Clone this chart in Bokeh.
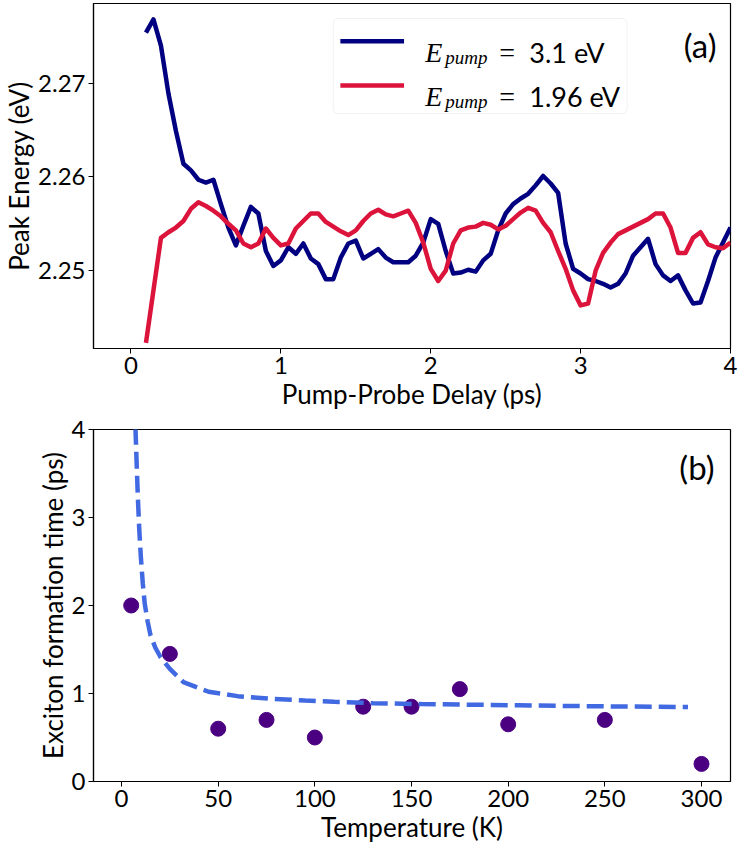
from bokeh.plotting import figure
from bokeh.layouts import column
from bokeh.models import Range1d, FixedTicker, BoxAnnotation, Label
from bokeh.embed import file_html
from bokeh.resources import INLINE

# ---------------- data: panel (a) ----------------
delay_ps = [0.1, 0.15, 0.2, 0.25, 0.3, 0.35, 0.4, 0.45, 0.5, 0.55,
            0.6, 0.65, 0.7, 0.75, 0.8, 0.85, 0.9, 0.95, 1.0, 1.05,
            1.1, 1.15, 1.2, 1.25, 1.3, 1.35, 1.4, 1.45, 1.5, 1.55,
            1.6, 1.65, 1.7, 1.75, 1.8, 1.85, 1.9, 1.95, 2.0, 2.05,
            2.1, 2.15, 2.2, 2.25, 2.3, 2.35, 2.4, 2.45, 2.5, 2.55,
            2.6, 2.65, 2.7, 2.75, 2.8, 2.85, 2.9, 2.95, 3.0, 3.05,
            3.1, 3.15, 3.2, 3.25, 3.3, 3.35, 3.4, 3.45, 3.5, 3.55,
            3.6, 3.65, 3.7, 3.75, 3.8, 3.85, 3.9, 3.95, 4.0]

peak_3p1 = [2.2754, 2.2768, 2.2740, 2.2689, 2.2649, 2.2614, 2.2607, 2.2597, 2.2594, 2.2597,
            2.2571, 2.2546, 2.2527, 2.2548, 2.2568, 2.2561, 2.2521, 2.2505, 2.2511, 2.2525,
            2.2518, 2.2529, 2.2513, 2.2507, 2.2491, 2.2491, 2.2514, 2.2529, 2.2532, 2.2513,
            2.2518, 2.2523, 2.2514, 2.2509, 2.2509, 2.2509, 2.2516, 2.2530, 2.2555, 2.2550,
            2.2521, 2.2497, 2.2498, 2.2501, 2.2499, 2.2511, 2.2518, 2.2543, 2.2561, 2.2571,
            2.2577, 2.2582, 2.2591, 2.2601, 2.2593, 2.2583, 2.2529, 2.2502, 2.2497, 2.2491,
            2.2489, 2.2486, 2.2482, 2.2486, 2.2497, 2.2516, 2.2525, 2.2534, 2.2507, 2.2495,
            2.2489, 2.2495, 2.2479, 2.2465, 2.2466, 2.2489, 2.2514, 2.2530, 2.2546]

peak_1p96 = [2.2423, 2.2479, 2.2535, 2.2541, 2.2546, 2.2553, 2.2566, 2.2573, 2.2569, 2.2564,
             2.2558, 2.2550, 2.2543, 2.2529, 2.2525, 2.2529, 2.2545, 2.2535, 2.2527, 2.2529,
             2.2545, 2.2553, 2.2561, 2.2561, 2.2552, 2.2547, 2.2542, 2.2538, 2.2543, 2.2553,
             2.2561, 2.2565, 2.2560, 2.2558, 2.2561, 2.2564, 2.2551, 2.2530, 2.2502, 2.2489,
             2.2500, 2.2529, 2.2543, 2.2546, 2.2547, 2.2551, 2.2549, 2.2544, 2.2548, 2.2555,
             2.2562, 2.2567, 2.2564, 2.2551, 2.2541, 2.2521, 2.2502, 2.2479, 2.2463, 2.2465,
             2.2500, 2.2519, 2.2530, 2.2539, 2.2543, 2.2547, 2.2551, 2.2555, 2.2561, 2.2561,
             2.2546, 2.2519, 2.2519, 2.2535, 2.2541, 2.2528, 2.2525, 2.2524, 2.2530]

series_names = ["3.1 eV", "1.96 eV"]
a_xticks = [0, 1, 2, 3, 4]
a_yticks = [2.25, 2.26, 2.27]
a_ytick_labels = ["2.25", "2.26", "2.27"]

# ---------------- data: panel (b) ----------------
temp_K = [5, 25, 50, 75, 100, 125, 150, 175, 200, 250, 300]
formation_ps = [2.0, 1.45, 0.6, 0.7, 0.5, 0.85, 0.85, 1.05, 0.65, 0.7, 0.2]

fit_T = [7.2, 8.0, 8.5, 9.2, 10.0, 11.0, 12.0, 13.5, 15.0, 17.5, 20.0, 25.0, 32.0, 45.0,
         60.0, 77.0, 95.0, 110.0, 130.0, 155.0, 180.0, 205.0, 230.0, 260.0, 293.0]
fit_y = [4.02, 3.5, 3.2, 2.85, 2.55, 2.25, 2.02, 1.82, 1.66, 1.52, 1.42, 1.28, 1.13, 1.02,
         0.97, 0.94, 0.92, 0.905, 0.89, 0.88, 0.873, 0.866, 0.858, 0.852, 0.847]

b_xticks = [0, 50, 100, 150, 200, 250, 300]
b_yticks = [0, 1, 2, 3, 4]

# ---------------- styling ----------------
SANS = "Lato"
SERIF = "Liberation Serif"
NAVY = "#000080"
CRIMSON = "#DC143C"
INDIGO = "#4B0082"
ROYAL = "#4169E1"
TICK_FS = "24px"
LABEL_FS = "26px"

W = 738
A_FH = 345
B_FH = 352


def style(p):
    p.toolbar_location = None
    p.xgrid.grid_line_color = None
    p.ygrid.grid_line_color = None
    p.outline_line_color = "black"
    p.outline_line_width = 1.2
    p.outline_line_alpha = 1
    for ax in (p.xaxis, p.yaxis):
        ax.axis_line_color = "black"
        ax.axis_line_width = 1.2
        ax.major_tick_line_color = "black"
        ax.major_tick_line_width = 1
        ax.major_tick_out = 5
        ax.major_tick_in = 0
        ax.minor_tick_line_color = None
        ax.major_label_text_font = SANS
        ax.major_label_text_font_size = TICK_FS
        ax.major_label_text_color = "black"
        ax.axis_label_text_font = SANS
        ax.axis_label_text_font_size = LABEL_FS
        ax.axis_label_text_font_style = "normal"
        ax.axis_label_text_color = "black"
    p.xaxis.major_label_standoff = 3
    p.yaxis.major_label_standoff = 3
    p.xaxis.axis_label_standoff = 1
    p.yaxis.axis_label_standoff = 0
    p.background_fill_color = "white"
    p.border_fill_color = "white"


# ---------------- panel (a) ----------------
ax0, ax1 = -0.25, 4.0
ay0, ay1 = 2.2417, 2.2785
p1 = figure(width=W, height=3 + A_FH + 64, output_backend="svg", toolbar_location=None,
            x_range=Range1d(ax0, ax1), y_range=Range1d(ay0, ay1),
            min_border_left=90, min_border_right=8, min_border_top=3, min_border_bottom=64)
style(p1)
p1.xaxis.ticker = FixedTicker(ticks=a_xticks)
p1.yaxis.ticker = FixedTicker(ticks=a_yticks)
p1.yaxis.major_label_overrides = {v: s for v, s in zip(a_yticks, a_ytick_labels)}
p1.xaxis.axis_label = "Pump-Probe Delay (ps)"
p1.yaxis.axis_label = "Peak Energy (eV)"

p1.line(delay_ps, peak_3p1, line_color=NAVY, line_width=4.5, line_join="round")
p1.line(delay_ps, peak_1p96, line_color=CRIMSON, line_width=4.5, line_join="round")


def afy(dy):
    # vertical position given in px below the frame top
    return ay1 - dy / A_FH * (ay1 - ay0)


# legend: box, line samples and rich-text labels
leg_left, leg_right = 1.35, 3.31
p1.add_layout(BoxAnnotation(left=leg_left, right=leg_right, top=afy(15), bottom=afy(110),
                            fill_color="white", fill_alpha=0.85, line_color="#d0d0d0",
                            line_width=1, border_radius=5))
sw_x0, sw_x1 = 1.397, 1.822
rows = [(37.7, NAVY, series_names[0]), (82.0, CRIMSON, series_names[1])]
for dy, col, name in rows:
    p1.line([sw_x0, sw_x1], [afy(dy), afy(dy)], line_color=col, line_width=4.5, level="overlay")
    base = dy + 11
    p1.add_layout(Label(x=leg_left, y=afy(base), x_offset=92, text="E", text_font=SERIF,
                        text_font_style="italic", text_font_size="28px", text_baseline="alphabetic",
                        text_align="left", text_color="black", level="overlay"))
    p1.add_layout(Label(x=leg_left, y=afy(base + 5), x_offset=112, text="pump", text_font=SERIF,
                        text_font_style="italic", text_font_size="19px", text_baseline="alphabetic",
                        text_align="left", text_color="black", level="overlay"))
    p1.add_layout(Label(x=leg_left, y=afy(base), x_offset=166, text="=", text_font=SERIF,
                        text_font_size="28px", text_baseline="alphabetic", text_align="left",
                        text_color="black", level="overlay"))
    p1.add_layout(Label(x=leg_left, y=afy(base), x_offset=196, text=name, text_font=SANS,
                        text_font_size="27px", text_baseline="alphabetic", text_align="left",
                        text_color="black", level="overlay"))

p1.add_layout(Label(x=ax1, y=afy(21), x_offset=-14, text="(a)", text_font=SANS, text_font_size="33px",
                    text_baseline="top", text_align="right", text_color="black"))

# ---------------- panel (b) ----------------
bx0, bx1 = -14.5, 315.0
by0, by1 = 0.0, 4.0
p2 = figure(width=W, height=17 + B_FH + 66, output_backend="svg", toolbar_location=None,
            x_range=Range1d(bx0, bx1), y_range=Range1d(by0, by1),
            min_border_left=90, min_border_right=8, min_border_top=17, min_border_bottom=66)
style(p2)
p2.xaxis.ticker = FixedTicker(ticks=b_xticks)
p2.yaxis.ticker = FixedTicker(ticks=b_yticks)
p2.xaxis.axis_label = "Temperature (K)"
p2.yaxis.axis_label = "Exciton formation time (ps)"

p2.scatter(temp_K, formation_ps, size=15, fill_color=INDIGO, line_color=INDIGO)
p2.line(fit_T, fit_y, line_color=ROYAL, line_width=4.5, line_dash="17 7")

p2.add_layout(Label(x=bx1, y=by1 - 17 / B_FH * (by1 - by0), x_offset=-16, text="(b)", text_font=SANS,
                    text_font_size="33px", text_baseline="top", text_align="right", text_color="black"))

layout = column(p1, p2, spacing=0)
open("out.html", "w").write(file_html(layout, INLINE))
